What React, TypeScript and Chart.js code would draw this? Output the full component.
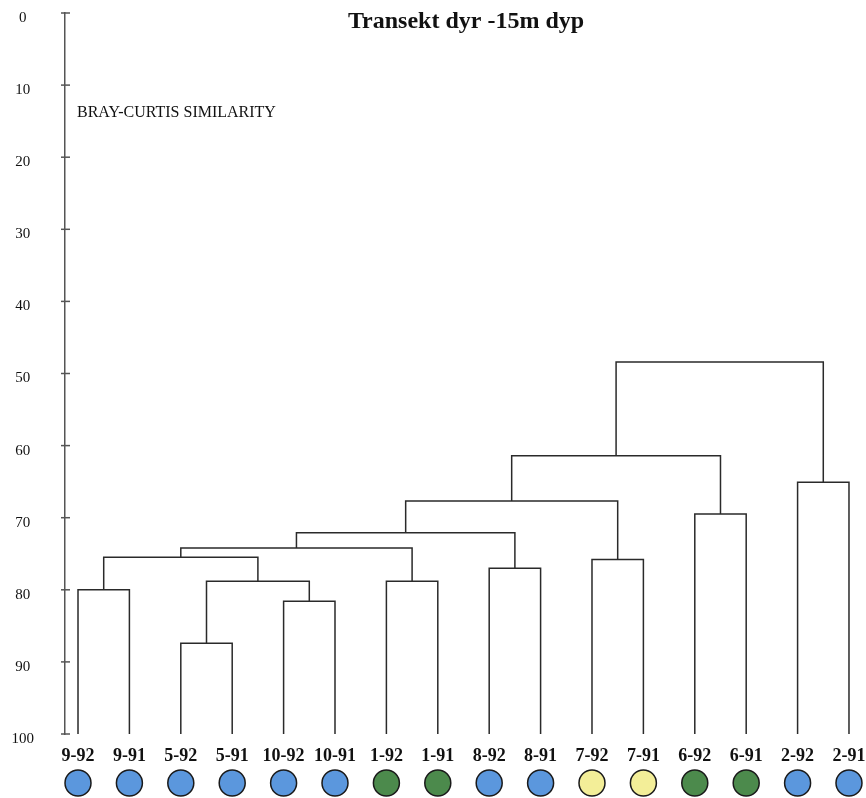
import React, { useEffect, useRef } from "react";
import { Chart, registerables } from "chart.js";

Chart.register(...registerables);

const titleText = "Transekt dyr -15m dyp";
const axisText = "BRAY-CURTIS SIMILARITY";
const yTicks = [0, 10, 20, 30, 40, 50, 60, 70, 80, 90, 100];

const leafLabels = ["9-92", "9-91", "5-92", "5-91", "10-92", "10-91", "1-92", "1-91", "8-92", "8-91", "7-92", "7-91", "6-92", "6-91", "2-92", "2-91"];
const leafGroups = ["blue", "blue", "blue", "blue", "blue", "blue", "green", "green", "blue", "blue", "yellow", "yellow", "green", "green", "blue", "blue"];

// merges (node ids: 0..15 leaves, 16+ clusters in merge order)
const mergeLeft = [0, 2, 4, 17, 16, 6, 20, 8, 22, 10, 24, 12, 26, 14, 28];
const mergeRight = [1, 3, 5, 18, 19, 7, 21, 9, 23, 11, 25, 13, 27, 15, 29];
const mergeHeight = [80.0, 87.4, 81.6, 78.8, 75.5, 78.8, 74.2, 77.0, 72.1, 75.8, 67.7, 69.5, 61.4, 65.1, 48.4];

const groupColors: Record<string, string> = {
  blue: "#5b97dd",
  green: "#4c8a4c",
  yellow: "#f3ee98",
};

function buildDatasets() {
  const n = leafLabels.length;
  const pos: number[] = leafLabels.map((_, i) => i);
  const hgt: number[] = leafLabels.map(() => 100);
  const sets: any[] = [];
  mergeHeight.forEach((h, k) => {
    const l = mergeLeft[k];
    const r = mergeRight[k];
    const xl = pos[l];
    const xr = pos[r];
    sets.push({
      data: [
        { x: xl, y: hgt[l] },
        { x: xl, y: h },
        { x: xr, y: h },
        { x: xr, y: hgt[r] },
      ],
      showLine: true,
      borderColor: "#2a2a2a",
      borderWidth: 1.5,
      pointRadius: 0,
      tension: 0,
      fill: false,
    });
    pos[n + k] = (xl + xr) / 2;
    hgt[n + k] = h;
  });
  return sets;
}

const zeroPad = (s: any) => {
  s.paddingTop = 0;
  s.paddingBottom = 0;
  s.paddingLeft = 0;
  s.paddingRight = 0;
};

const decorPlugin = {
  id: "decor",
  afterDraw(chart: any) {
    const ctx = chart.ctx;
    const xs = chart.scales.x;
    const ys = chart.scales.y;
    const left = chart.chartArea.left;
    ctx.save();
    // crossing tick marks
    ctx.strokeStyle = "#555";
    ctx.lineWidth = 1.5;
    yTicks.forEach((v) => {
      const py = ys.getPixelForValue(v);
      ctx.beginPath();
      ctx.moveTo(left - 4, py);
      ctx.lineTo(left + 5, py);
      ctx.stroke();
    });
    // title
    ctx.fillStyle = "#111";
    ctx.font = "bold 24px 'Liberation Serif', serif";
    ctx.textAlign = "center";
    ctx.textBaseline = "alphabetic";
    ctx.fillText(titleText, 466, 28);
    // axis caption
    ctx.font = "16px 'Liberation Serif', serif";
    ctx.textAlign = "left";
    ctx.fillText(axisText, 77, 117);
    // group circles
    leafGroups.forEach((g, i) => {
      const px = xs.getPixelForValue(i);
      ctx.beginPath();
      ctx.arc(px, 783, 13, 0, Math.PI * 2);
      ctx.fillStyle = groupColors[g];
      ctx.fill();
      ctx.strokeStyle = "#1a1a1a";
      ctx.lineWidth = 1.5;
      ctx.stroke();
    });
    ctx.restore();
  },
};

export default function App() {
  const ref = useRef<HTMLCanvasElement>(null);
  useEffect(() => {
    if (!ref.current) return;
    const chart = new Chart(ref.current, {
      type: "scatter",
      data: { datasets: buildDatasets() },
      options: {
        animation: false,
        responsive: false,
        layout: { padding: { top: 13, left: 0, right: 0, bottom: 0 } },
        plugins: { legend: { display: false }, tooltip: { enabled: false } },
        scales: {
          x: {
            type: "linear",
            min: -0.253,
            max: 15.331,
            afterFit: (s: any) => {
              s.height = 64;
              zeroPad(s);
            },
            afterBuildTicks: (s: any) => {
              s.ticks = leafLabels.map((_, i) => ({ value: i }));
            },
            grid: { display: false, drawTicks: false },
            border: { display: false },
            ticks: {
              autoSkip: false,
              maxRotation: 0,
              minRotation: 0,
              padding: 12,
              color: "#111",
              font: { family: "'Liberation Serif', serif", size: 18, weight: "bold" },
              callback: (v: any) => leafLabels[Math.round(Number(v))] ?? "",
            },
          },
          y: {
            type: "linear",
            reverse: true,
            min: 0,
            max: 100,
            afterFit: (s: any) => {
              s.width = 65;
              zeroPad(s);
            },
            afterBuildTicks: (s: any) => {
              s.ticks = yTicks.map((v) => ({ value: v }));
            },
            grid: { display: false, drawTicks: false },
            border: { display: true, color: "#555", width: 1.5 },
            ticks: {
              padding: 31,
              crossAlign: "center",
              labelOffset: 5,
              color: "#111",
              font: { family: "'Liberation Serif', serif", size: 15 },
            },
          },
        },
      },
      plugins: [decorPlugin],
    } as any);
    return () => chart.destroy();
  }, []);
  return (
    <div style={{ position: "fixed", left: 0, top: 0, width: 866, height: 798, background: "#fff" }}>
      <canvas ref={ref} width={866} height={798} />
    </div>
  );
}
